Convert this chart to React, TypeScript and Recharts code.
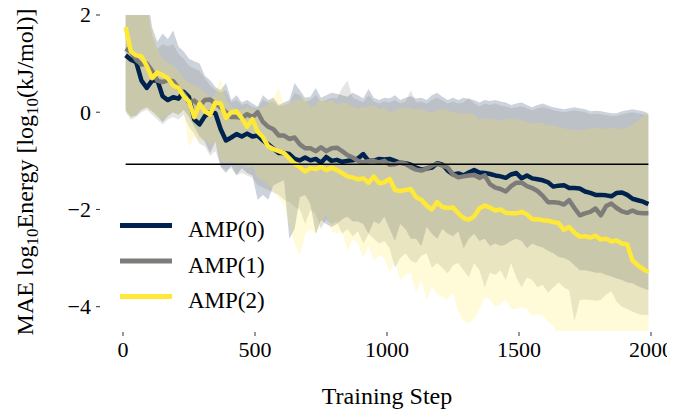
import React from 'react';
import { ComposedChart, Line, Area, XAxis, YAxis, ReferenceLine, Legend } from 'recharts';

const FONT = '"Liberation Serif", "Times New Roman", serif';
const C0 = '#00224E';
const C1 = '#7D7C78';
const C2 = '#FEE838';

const steps = [10,30,50,70,90,110,130,150,170,190,210,230,250,270,290,310,330,350,370,390,
410,430,450,470,490,510,530,550,570,590,610,630,650,670,690,710,730,750,770,790,
810,830,850,870,890,910,930,950,970,990,1010,1030,1050,1070,1090,1110,1130,1150,1170,1190,
1210,1230,1250,1270,1290,1310,1330,1350,1370,1390,1410,1430,1450,1470,1490,1510,1530,1550,1570,1590,
1610,1630,1650,1670,1690,1710,1730,1750,1770,1790,1810,1830,1850,1870,1890,1910,1930,1950,1970,1990];

const xTicks = [0, 500, 1000, 1500, 2000];
const yTicks = [-4, -2, 0, 2];
const seriesNames = ['AMP(0)', 'AMP(1)', 'AMP(2)'];
const threshold = -1.07;

const amp0Mean = [1.17,1.08,1.03,0.65,0.5,0.65,0.66,0.33,0.25,0.31,
0.28,0.42,0.31,-0.15,-0.25,-0.08,0.0,-0.02,-0.35,-0.58,
-0.52,-0.45,-0.5,-0.44,-0.5,-0.48,-0.58,-0.66,-0.75,-0.84,
-0.84,-0.86,-0.96,-0.99,-0.93,-0.99,-0.96,-1.04,-0.92,-1.0,
-0.98,-1.02,-1.0,-0.99,-0.95,-0.86,-1.0,-1.0,-0.96,-0.97,
-0.96,-1.0,-1.04,-1.05,-1.08,-1.14,-1.18,-1.16,-1.14,-1.05,
-1.08,-1.2,-1.28,-1.26,-1.3,-1.24,-1.19,-1.24,-1.25,-1.27,
-1.3,-1.32,-1.35,-1.28,-1.25,-1.36,-1.3,-1.36,-1.38,-1.4,
-1.44,-1.53,-1.51,-1.5,-1.56,-1.56,-1.57,-1.63,-1.66,-1.7,
-1.7,-1.71,-1.73,-1.66,-1.65,-1.7,-1.78,-1.81,-1.84,-1.89];

const amp1Mean = [1.31,1.24,1.08,0.98,1.0,0.85,0.65,0.62,0.66,0.64,
0.49,0.38,0.2,0.24,0.13,0.25,0.26,0.18,0.1,0.0,
-0.1,-0.1,-0.12,-0.04,-0.1,0.0,-0.2,-0.3,-0.35,-0.48,
-0.48,-0.55,-0.52,-0.66,-0.74,-0.74,-0.8,-0.72,-0.8,-0.74,
-0.73,-0.8,-0.88,-0.93,-1.0,-1.03,-1.01,-1.0,-1.03,-1.0,
-1.08,-1.07,-1.03,-1.06,-1.13,-1.18,-1.2,-1.16,-1.1,-1.06,
-1.1,-1.14,-1.28,-1.34,-1.32,-1.3,-1.29,-1.35,-1.3,-1.48,
-1.55,-1.58,-1.63,-1.52,-1.45,-1.45,-1.52,-1.56,-1.62,-1.72,
-1.85,-1.85,-1.86,-1.9,-1.81,-1.97,-2.12,-2.08,-2.05,-1.98,
-2.12,-1.93,-1.88,-1.97,-2.04,-2.07,-2.02,-2.07,-2.08,-2.08];

const amp2Mean = [1.75,1.25,1.17,1.15,0.95,0.7,0.82,0.76,0.7,0.55,
0.5,0.33,0.22,-0.1,0.18,0.02,-0.05,0.2,0.18,-0.12,
0.0,0.02,-0.12,-0.3,-0.14,-0.4,-0.51,-0.7,-0.76,-0.8,
-0.84,-0.95,-1.06,-1.13,-1.22,-1.15,-1.17,-1.12,-1.19,-1.14,
-1.19,-1.25,-1.32,-1.34,-1.38,-1.36,-1.45,-1.32,-1.46,-1.44,
-1.37,-1.6,-1.62,-1.6,-1.58,-1.75,-1.8,-1.92,-2.0,-1.85,
-1.95,-1.97,-1.96,-2.08,-2.18,-2.21,-2.14,-1.98,-1.92,-1.96,
-2.02,-2.0,-2.07,-2.08,-2.08,-2.05,-2.1,-2.2,-2.2,-2.22,
-2.23,-2.26,-2.28,-2.42,-2.36,-2.48,-2.56,-2.55,-2.58,-2.54,
-2.62,-2.6,-2.66,-2.64,-2.7,-2.72,-3.05,-3.15,-3.22,-3.29];

const amp0High = [2.5,2.5,2.5,2.5,2.5,1.75,1.45,1.62,1.5,1.68,
1.35,1.25,1.1,1.05,1.0,0.75,0.66,0.52,0.45,0.6,
0.25,0.35,0.2,0.25,0.18,0.12,0.35,0.25,0.3,0.15,
0.2,0.25,0.6,0.45,0.3,0.32,0.5,0.3,0.35,0.4,
0.38,0.35,0.32,0.4,0.35,0.28,0.48,0.3,0.25,0.3,
0.28,0.35,0.25,0.3,0.33,0.28,0.3,0.25,0.35,0.4,
0.32,0.25,0.3,0.25,0.3,0.27,0.25,0.2,0.25,0.23,
0.25,0.22,0.2,0.15,0.18,0.2,0.15,0.1,0.15,0.18,
0.14,0.1,0.08,0.06,0.08,0.1,0.08,0.06,0.02,0.03,
0.02,0.0,-0.02,-0.02,0.02,0.04,0.06,0.04,0.02,-0.02];

const amp1High = [2.5,2.5,2.5,2.5,2.2,1.6,1.3,1.4,1.35,1.4,
1.2,1.1,0.95,0.9,0.85,0.7,0.55,0.45,0.4,0.45,
0.2,0.25,0.15,0.18,0.1,0.08,0.25,0.2,0.22,0.12,
0.15,0.18,0.4,0.35,0.22,0.25,0.35,0.22,0.25,0.3,
0.28,0.5,0.66,0.3,0.25,0.2,0.35,0.22,0.18,0.22,
0.2,0.25,0.18,0.22,0.45,0.2,0.22,0.18,0.25,0.3,
0.24,0.18,0.22,0.18,0.2,0.3,0.18,0.12,0.18,0.15,
0.18,0.14,0.12,0.08,0.1,0.12,0.08,0.04,0.08,0.1,
0.08,0.04,0.02,0.0,0.02,0.04,0.02,0.0,-0.04,-0.03,
-0.04,-0.06,-0.08,-0.08,-0.04,-0.02,0.0,-0.02,-0.04,-0.06];

const amp2High = [2.5,2.5,2.5,2.5,2.1,1.7,1.3,1.1,1.03,0.95,
0.85,0.7,0.6,0.55,0.5,0.4,0.3,0.38,0.72,0.25,
0.1,0.05,0.05,0.1,0.04,0.06,0.1,0.18,0.3,0.5,
0.15,0.18,0.25,0.25,0.3,0.1,0.15,0.3,0.2,0.25,
0.15,0.2,0.18,0.12,0.08,0.1,0.12,0.15,0.05,0.1,
0.0,0.05,0.08,0.1,0.08,0.05,0.08,0.02,-0.02,0.03,
0.06,0.04,0.0,-0.02,-0.03,-0.02,-0.05,-0.15,-0.12,-0.13,
-0.15,-0.17,-0.15,-0.13,-0.15,-0.17,-0.2,-0.23,-0.22,-0.22,
-0.27,-0.27,-0.3,-0.33,-0.36,-0.36,-0.37,-0.35,-0.33,-0.33,
-0.33,-0.34,-0.33,-0.33,-0.34,-0.33,-0.25,-0.18,-0.08,-0.02];

const amp0Low = [0.04,-0.1,-0.06,0.05,0.1,0.02,-0.08,-0.2,-0.08,0.0,
-0.05,0.05,-0.1,-0.3,-0.5,-0.6,-0.84,-0.6,-1.13,-1.25,
-1.1,-1.29,-1.15,-1.25,-1.3,-1.8,-1.7,-1.8,-1.5,-1.45,
-1.4,-2.6,-2.4,-1.75,-1.7,-1.9,-2.5,-2.22,-2.3,-2.36,
-2.3,-2.2,-2.15,-2.25,-2.25,-2.3,-2.5,-2.25,-2.3,-2.15,
-2.4,-2.65,-2.3,-2.4,-2.6,-2.6,-2.75,-2.36,-2.5,-2.6,
-2.4,-2.5,-2.55,-2.45,-2.8,-2.6,-2.5,-2.65,-2.6,-2.75,
-2.7,-2.75,-2.72,-2.65,-2.6,-2.65,-2.8,-2.7,-2.75,-2.78,
-2.85,-2.9,-2.98,-3.0,-3.05,-3.15,-3.25,-3.25,-3.27,-3.3,
-3.3,-3.35,-3.38,-3.42,-3.45,-3.5,-3.52,-3.58,-3.62,-3.66];

const amp1Low = [0.0,-0.15,-0.1,0.0,0.05,-0.05,-0.15,-0.25,-0.15,-0.1,
-0.15,-0.05,-0.3,-0.45,-0.65,-0.7,-0.9,-0.8,-1.1,-1.2,
-1.15,-1.3,-1.25,-1.3,-1.35,-1.5,-1.55,-1.6,-1.65,-1.7,
-1.8,-1.85,-1.95,-2.0,-2.3,-2.0,-2.1,-2.4,-2.2,-2.3,
-2.25,-2.5,-2.4,-2.55,-2.45,-2.7,-2.5,-2.6,-2.7,-2.65,
-2.8,-3.2,-3.0,-2.9,-3.05,-3.1,-2.95,-2.9,-3.2,-3.1,
-3.2,-3.31,-3.15,-3.1,-3.25,-3.39,-3.1,-3.25,-3.6,-3.3,
-3.35,-3.25,-3.45,-3.1,-3.4,-3.6,-3.4,-3.45,-3.6,-3.55,
-3.72,-3.6,-3.5,-3.6,-3.66,-4.3,-3.86,-3.85,-3.86,-3.88,
-3.86,-3.75,-3.68,-3.9,-4.0,-4.05,-4.1,-4.15,-4.17,-4.17];

const amp2Low = [0.0,-0.1,-0.05,0.05,0.1,0.0,-0.1,-0.15,-0.05,0.0,
-0.05,0.05,-0.72,-0.5,-0.6,-0.55,-0.7,-0.6,-1.0,-1.05,
-1.0,-1.1,-1.05,-1.15,-1.1,-1.35,-1.4,-1.5,-1.6,-1.75,
-1.9,-2.3,-2.7,-2.95,-2.5,-2.4,-2.5,-2.3,-2.1,-2.45,
-2.5,-2.45,-2.85,-2.6,-2.7,-3.0,-2.75,-3.05,-2.95,-3.0,
-3.3,-3.05,-3.45,-3.35,-3.3,-3.7,-3.45,-3.85,-3.6,-3.75,
-3.8,-3.85,-3.72,-4.1,-4.3,-4.34,-4.25,-4.05,-3.8,-3.85,
-4.0,-3.95,-3.85,-4.05,-4.05,-4.0,-4.05,-4.2,-4.15,-4.2,
-4.3,-4.4,-4.6,-4.7,-4.7,-4.7,-4.7,-4.7,-4.7,-4.7,
-4.7,-4.7,-4.7,-4.7,-4.7,-4.7,-4.7,-4.7,-4.7,-4.7];

const data = steps.map((s, i) => ({
  step: s,
  amp0: amp0Mean[i],
  amp1: amp1Mean[i],
  amp2: amp2Mean[i],
  band0: [amp0Low[i], amp0High[i]],
  band1: [amp1Low[i], amp1High[i]],
  band2: [amp2Low[i], amp2High[i]],
}));

const fmt = (v: number) => (v < 0 ? `\u2212${Math.abs(v)}` : `${v}`);

const YTick = (props: any) => {
  const { y, payload } = props;
  return (
    <g>
      <line x1={96} x2={100} y1={y} y2={y} stroke="#333" strokeWidth={1} />
      <text x={91} y={y} dy="0.34em" textAnchor="end" fontFamily={FONT} fontSize={22} fill="#000">
        {fmt(payload.value)}
      </text>
    </g>
  );
};

const XTick = (props: any) => {
  const { x, payload } = props;
  return (
    <g>
      <line x1={x} x2={x} y1={332} y2={336} stroke="#333" strokeWidth={1} />
      <text x={x} y={357} textAnchor="middle" fontFamily={FONT} fontSize={22} fill="#000">
        {fmt(payload.value)}
      </text>
    </g>
  );
};

const YLabel = () => (
  <text
    x={33}
    y={172}
    transform="rotate(-90 33 172)"
    textAnchor="middle"
    fontFamily={FONT}
    fontSize={24}
    fill="#000"
  >
    {'MAE log'}
    <tspan dy={5} fontSize={17}>10</tspan>
    <tspan dy={-5}>{'Energy [log'}</tspan>
    <tspan dy={5} fontSize={17}>10</tspan>
    <tspan dy={-5}>{'(kJ/mol)]'}</tspan>
  </text>
);

const XLabel = () => (
  <text x={387} y={404} textAnchor="middle" fontFamily={FONT} fontSize={24} fill="#000">
    Training Step
  </text>
);

const legendColors = [C0, C1, C2];

const LegendContent = () => (
  <svg width={200} height={110} style={{ display: 'block' }}>
    {seriesNames.map((n, i) => (
      <g key={n}>
        <line x1={2} x2={54} y1={17.5 + i * 35.5} y2={17.5 + i * 35.5} stroke={legendColors[i]} strokeWidth={5} />
        <text x={70} y={29 + i * 35.5} fontFamily={FONT} fontSize={23} fill="#000">{n}</text>
      </g>
    ))}
  </svg>
);

export default function App() {
  return (
    <div style={{ marginTop: -8, marginLeft: -8, marginRight: -8, marginBottom: 0, width: 675, height: 410 }}>
      <ComposedChart
        width={675}
        height={410}
        data={data}
        margin={{ top: 15, right: 24, bottom: 0, left: 0 }}
      >
        <XAxis
          dataKey="step"
          type="number"
          domain={[0, 2000]}
          ticks={xTicks}
          axisLine={false}
          tickLine={false}
          tickSize={0}
          tickMargin={0}
          height={79}
          tick={<XTick />}
          label={<XLabel />}
          interval={0}
        />
        <YAxis
          type="number"
          domain={[-4.5, 2]}
          ticks={yTicks}
          allowDataOverflow
          axisLine={false}
          tickLine={false}
          tickSize={0}
          tickMargin={0}
          width={123}
          tick={<YTick />}
          label={<YLabel />}
          interval={0}
        />
        <Area type="linear" dataKey="band0" stroke="none" fill={C0} fillOpacity={0.2} isAnimationActive={false} activeDot={false} />
        <Line type="linear" dataKey="amp0" stroke={C0} strokeWidth={4.5} dot={false} strokeLinejoin="round" isAnimationActive={false} activeDot={false} />
        <Area type="linear" dataKey="band1" stroke="none" fill={C1} fillOpacity={0.2} isAnimationActive={false} activeDot={false} />
        <Line type="linear" dataKey="amp1" stroke={C1} strokeWidth={4.5} dot={false} strokeLinejoin="round" isAnimationActive={false} activeDot={false} />
        <Area type="linear" dataKey="band2" stroke="none" fill={C2} fillOpacity={0.2} isAnimationActive={false} activeDot={false} />
        <Line type="linear" dataKey="amp2" stroke={C2} strokeWidth={4.5} dot={false} strokeLinejoin="round" isAnimationActive={false} activeDot={false} />
        <ReferenceLine
          segment={[{ x: 10, y: threshold }, { x: 1990, y: threshold }]}
          stroke="#000"
          strokeWidth={1.5}
        />
        <Legend
          layout="vertical"
          align="center"
          verticalAlign="middle"
          content={<LegendContent />}
          wrapperStyle={{ position: 'absolute', left: 118, top: 208, width: 200, height: 110 }}
        />
      </ComposedChart>
    </div>
  );
}
